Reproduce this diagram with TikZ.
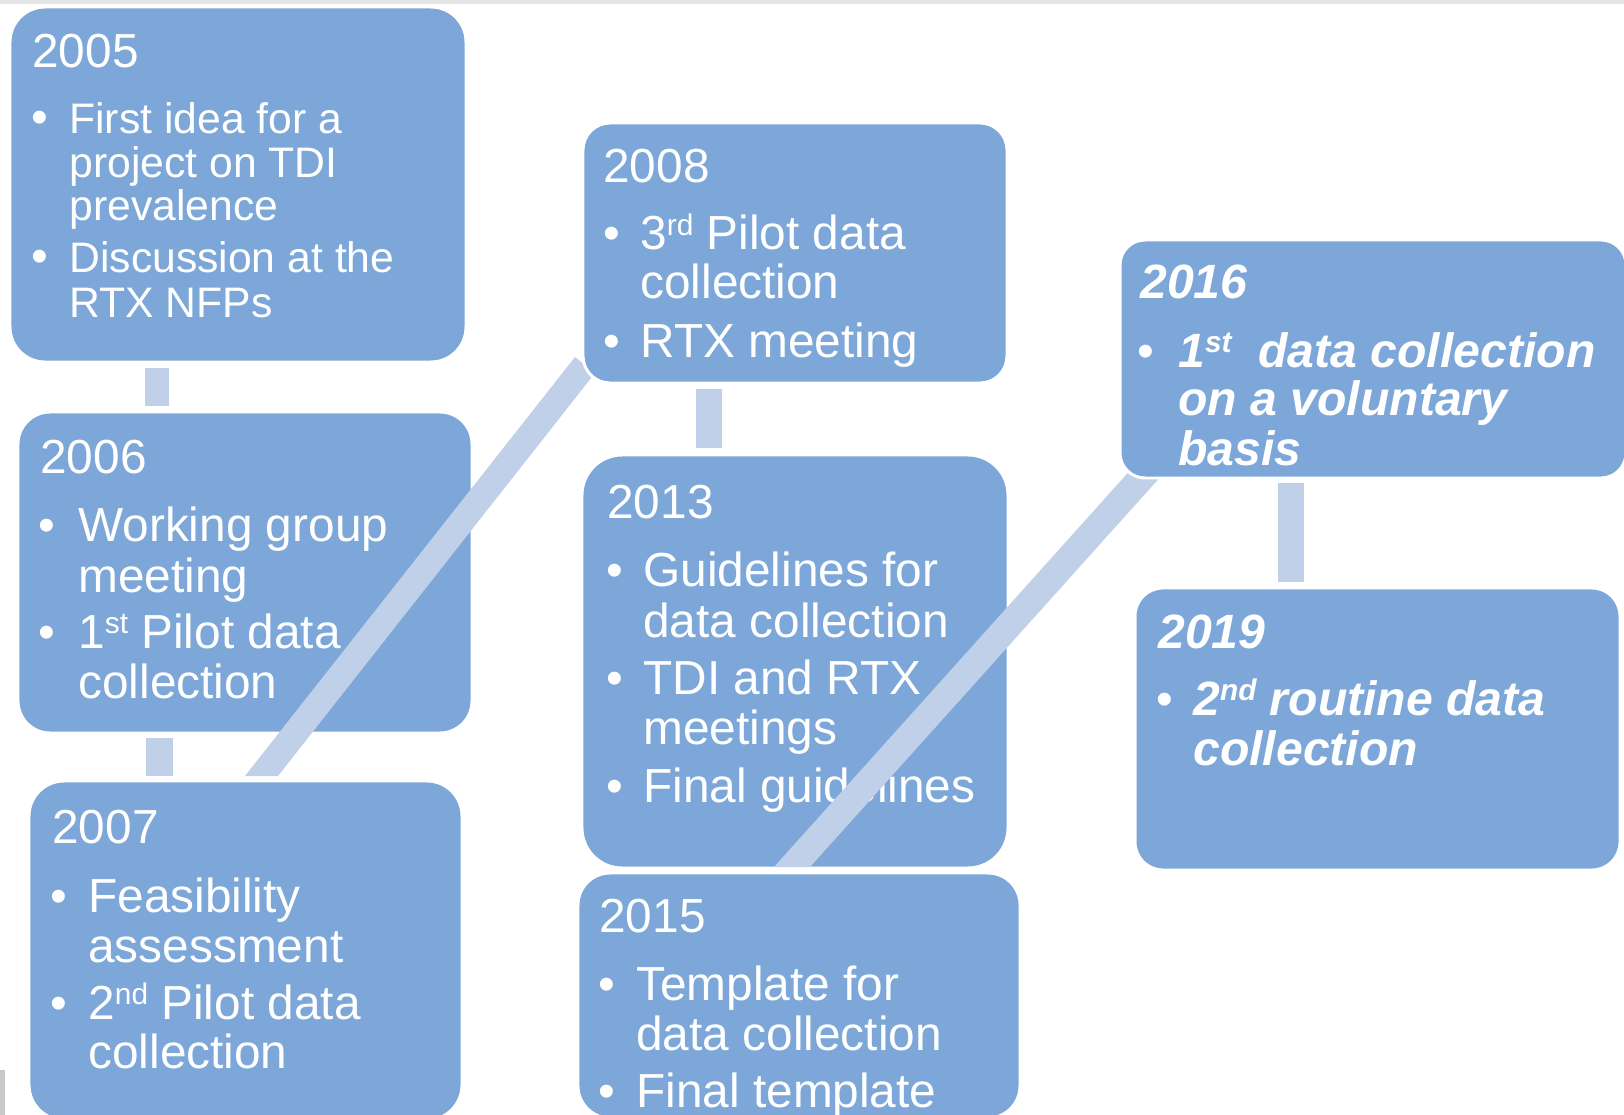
\documentclass[tikz,border=0pt]{standalone}
\usepackage{fontspec}
\setmainfont{Liberation Sans}
\usetikzlibrary{fit}
\definecolor{boxblue}{RGB}{124,167,216}
\definecolor{connblue}{RGB}{191,208,232}
\definecolor{topgray}{RGB}{228,228,228}
\definecolor{sidegray}{RGB}{200,200,200}
\newcommand\sups[1]{\raisebox{8.3pt}{\fontsize{17pt}{17pt}\selectfont #1}}
\tikzset{
  box/.style={fill=boxblue, draw=white, line width=1.7pt, inner sep=0pt},
  conn/.style={fill=connblue},
  ttl/.style={text=white, font=\fontsize{27.2pt}{30pt}\selectfont, anchor=base west, inner sep=0pt},
  itm/.style={text=white, font=\fontsize{27.2pt}{30pt}\selectfont, anchor=base west, inner sep=0pt},
  sitm/.style={text=white, font=\fontsize{24.3pt}{28pt}\selectfont, anchor=base west, inner sep=0pt},
  bul/.style={text=white, font=\fontsize{27.2pt}{30pt}\selectfont, anchor=base, inner sep=0pt},
  bttl/.style={ttl, font=\fontsize{27.4pt}{30pt}\selectfont\bfseries\itshape},
  bitm/.style={itm, font=\fontsize{27.4pt}{30pt}\selectfont\bfseries\itshape},
}
\begin{document}
\begin{tikzpicture}[x=0.02cm, y=-0.02cm]
\useasboundingbox (0,0) rectangle (1624,1115);
\clip (0,0) rectangle (1624,1115);
\fill[white] (0,0) rectangle (1624,1115);
\fill[topgray] (0,0) rectangle (1624,4);
\fill[sidegray] (0,1070) rectangle (5,1115);

% 2005
\node[box, rounded corners=0.7cm, fit={(10,7) (466,362)}] (y2005) {};
\node[ttl] (t2005) at (32,68) {2005};
\node[bul] (b2005a) at (40,133) {\textbullet};
\node[sitm] (l2005a) at (69,133) {First idea for a};
\node[sitm] (l2005b) at (69,177) {project on TDI};
\node[sitm] (l2005c) at (69,220) {prevalence};
\node[bul] (b2005b) at (40,273) {\textbullet};
\node[sitm] (l2005d) at (69,273) {Discussion at the};
\node[sitm] (l2005e) at (69,317) {RTX NFPs};

% connector 2005-2006
\coordinate (c1a) at (145,368);
\coordinate (c1b) at (169,406);
\fill[conn] (c1a) rectangle (c1b);

% 2006
\node[box, rounded corners=0.64cm, fit={(18,412) (472,733)}] (y2006) {};
\node[ttl] (t2006) at (40,473) {2006};
\node[bul] (b2006a) at (47,541) {\textbullet};
\node[itm] (l2006a) at (78,541) {Working group};
\node[itm] (l2006b) at (78,592) {meeting};
\node[bul] (b2006b) at (47,648) {\textbullet};
\node[itm] (l2006c) at (78,648) {1\sups{st} Pilot data};
\node[itm] (l2006d) at (78,698) {collection};

% connector 2006-2007
\coordinate (c2a) at (146,738);
\coordinate (c2b) at (173,776);
\fill[conn] (c2a) rectangle (c2b);

% 2007
\node[box, rounded corners=0.7cm, fit={(29,781) (462,1120)}] (y2007) {};
\node[ttl] (t2007) at (52,843) {2007};
\node[bul] (b2007a) at (59,912) {\textbullet};
\node[itm] (l2007a) at (88,912) {Feasibility};
\node[itm] (l2007b) at (88,962) {assessment};
\node[bul] (b2007b) at (59,1019) {\textbullet};
\node[itm] (l2007c) at (88,1019) {2\sups{nd} Pilot data};
\node[itm] (l2007d) at (88,1068) {collection};

% diagonal 2007-2008
\coordinate (d1a) at (245,776);
\coordinate (d1b) at (278,776);
\coordinate (d1c) at (595,373);
\coordinate (d1d) at (575,357);
\fill[conn] (d1a) -- (d1b) -- (d1c) -- (d1d) -- cycle;

% 2008
\node[box, rounded corners=0.54cm, fit={(583,123) (1007,383)}] (y2008) {};
\node[ttl] (t2008) at (603,183) {2008};
\node[bul] (b2008a) at (612,250) {\textbullet};
\node[itm] (l2008a) at (640,250) {3\sups{rd} Pilot data};
\node[itm] (l2008b) at (640,298) {collection};
\node[bul] (b2008b) at (612,357) {\textbullet};
\node[itm] (l2008c) at (640,357) {RTX meeting};

% connector 2008-2013
\coordinate (c3a) at (696,389);
\coordinate (c3b) at (722,448);
\fill[conn] (c3a) rectangle (c3b);

% 2013
\node[box, rounded corners=0.8cm, fit={(582,455) (1008,868)}] (y2013) {};
\node[ttl] (t2013) at (607,518) {2013};
\node[bul] (b2013a) at (615,586) {\textbullet};
\node[itm] (l2013a) at (643,586) {Guidelines for};
\node[itm] (l2013b) at (643,637) {data collection};
\node[bul] (b2013b) at (615,694) {\textbullet};
\node[itm] (l2013c) at (643,694) {TDI and RTX};
\node[itm] (l2013d) at (643,744) {meetings};
\node[bul] (b2013c) at (615,802) {\textbullet};
\node[itm] (l2013e) at (643,802) {Final guidelines};

% 2015
\node[box, rounded corners=0.64cm, fit={(578,873) (1020,1118)}] (y2015) {};
\node[ttl] (t2015) at (599,932) {2015};
\node[bul] (b2015a) at (607,1000) {\textbullet};
\node[itm] (l2015a) at (636,1000) {Template for};
\node[itm] (l2015b) at (636,1050) {data collection};
\node[bul] (b2015b) at (607,1107) {\textbullet};
\node[itm] (l2015c) at (636,1107) {Final template};

% diagonal 2015-2016
\coordinate (d2a) at (774,867);
\coordinate (d2b) at (810,867);
\coordinate (d2c) at (1158.5,479);
\coordinate (d2d) at (1138.5,461);
\fill[conn] (d2a) -- (d2b) -- (d2c) -- (d2d) -- cycle;

% 2016
\node[box, rounded corners=0.5cm, fit={(1120,240) (1626,478)}] (y2016) {};
\node[bttl] (t2016) at (1140,298) {2016};
\node[bul] (b2016a) at (1146,367) {\textbullet};
\node[bitm] (l2016a) at (1178,367) {1\sups{st}\ \ data collection};
\node[bitm] (l2016b) at (1178,415) {on a voluntary};
\node[bitm] (l2016c) at (1178,465) {basis};

% connector 2016-2019
\coordinate (c4a) at (1278,483);
\coordinate (c4b) at (1304,582);
\fill[conn] (c4a) rectangle (c4b);

% 2019
\node[box, rounded corners=0.56cm, fit={(1135,588) (1620,870)}] (y2019) {};
\node[bttl] (t2019) at (1158,648) {2019};
\node[bul] (b2019a) at (1165,715) {\textbullet};
\node[bitm] (l2019a) at (1193,715) {2\sups{nd} routine data};
\node[bitm] (l2019b) at (1193,765) {collection};
\end{tikzpicture}
\end{document}
